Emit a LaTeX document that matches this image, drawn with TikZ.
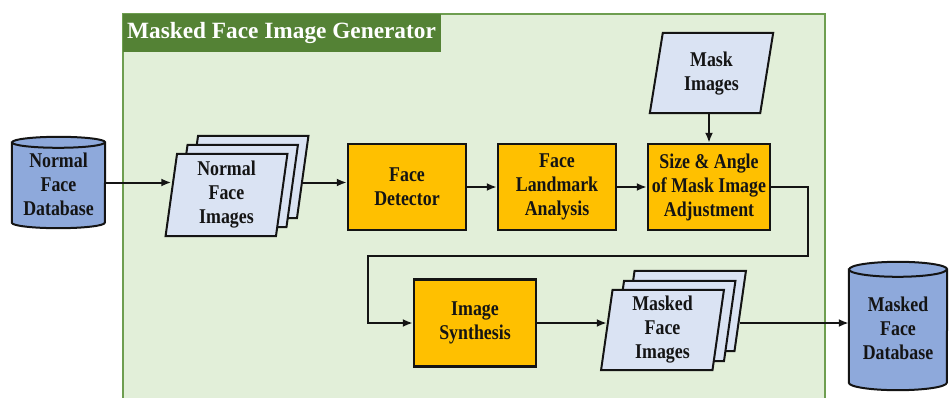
\documentclass[tikz,border=0pt]{standalone}
\usepackage{fontspec}
\setmainfont{Liberation Serif}
\newfontfamily\labelfont[FakeStretch=0.85]{Liberation Serif}
\usetikzlibrary{arrows.meta,calc}

\definecolor{genfill}{HTML}{E2EFD9}
\definecolor{genedge}{HTML}{6E9E50}
\definecolor{genhead}{HTML}{548235}
\definecolor{procfill}{HTML}{FFC000}
\definecolor{sheetfill}{HTML}{DAE3F3}
\definecolor{dbfill}{HTML}{8EA9DB}
\definecolor{ink}{HTML}{141414}

% parallelogram sheet around a rectangular node: #1 node, #2 half slant
\newcommand\drawsheet[2]{%
  \draw[sheet] ($(#1.south west)+(-#2,0)$) -- ($(#1.north west)+(#2,0)$)
    -- ($(#1.north east)+(#2,0)$) -- ($(#1.south east)+(-#2,0)$) -- cycle;}

% upright cylinder filling a rectangular node: #1 node, #2 half width, #3 cap radius
\newcommand\drawcyl[3]{%
  \draw[db] ($(#1.north west)+(0,#3)$) -- ($(#1.south west)+(0,-#3)$)
    arc[start angle=180,end angle=0,x radius=#2,y radius=#3]
    -- ($(#1.north east)+(0,#3)$)
    arc[start angle=0,end angle=-180,x radius=#2,y radius=#3] -- cycle;
  \draw[db,fill=none] ($(#1.north west)+(0,#3)$)
    arc[start angle=180,end angle=0,x radius=#2,y radius=#3];}

\begin{document}
\begin{tikzpicture}[x=1pt,y=-1pt,
  lbl/.style={font=\labelfont\bfseries\fontsize{21}{24}\selectfont,
    align=center, inner sep=0pt, text=ink},
  proc/.style={lbl, draw=ink, line width=2.4pt, fill=procfill},
  area/.style={inner sep=0pt, minimum width=110pt, minimum height=80pt},
  sheet/.style={draw=ink, line width=2pt, fill=sheetfill},
  db/.style={draw=ink, line width=2pt, fill=dbfill},
  arr/.style={draw=ink, line width=2pt, -{Latex[length=10pt,width=8pt]}}
]
\useasboundingbox (0,0) rectangle (949,398);
\clip (0,0) rectangle (949,398);

% generator frame and its title bar
\draw[genedge, line width=1.6pt, fill=genfill] (123,14) rectangle (825,420);
\fill[genhead] (123,14) rectangle (441,52);
\node[anchor=west, inner sep=0pt, text=white,
  font=\bfseries\fontsize{23.3}{26}\selectfont] (title) at (127,33)
  {Masked Face Image Generator};

% databases
\node[area, minimum width=93pt, minimum height=91pt] (ndb) at (58.5,182.5) {};
\drawcyl{ndb}{46.5}{5.5}
\node[lbl] (ndbtxt) at (58.5,184) {Normal\\Face\\Database};

\node[area, minimum width=98pt, minimum height=128pt] (mdb) at (898,326) {};
\drawcyl{mdb}{49}{7.5}
\node[lbl] (mdbtxt) at (898,328) {Masked\\Face\\Database};

% normal face image stack
\node[area, minimum height=82pt] (nfi3) at (247.5,177) {};
\node[area, minimum height=82pt] (nfi2) at (237,186) {};
\node[area, minimum height=82pt] (nfi) at (226.5,195) {};
\drawsheet{nfi3}{5.75}
\drawsheet{nfi2}{5.75}
\drawsheet{nfi}{5.75}
\node[lbl] (nfitxt) at (nfi) {Normal\\Face\\Images};

% mask images
\node[area] (mask) at (711.5,73) {};
\drawsheet{mask}{6.5}
\node[lbl] (masktxt) at (711.5,74) {Mask\\Images};

% masked face image stack
\node[area, minimum width=111pt] (mfi3) at (684.5,311) {};
\node[area, minimum width=111pt] (mfi2) at (674,321) {};
\node[area, minimum width=111pt] (mfi) at (662.5,330) {};
\drawsheet{mfi3}{5.75}
\drawsheet{mfi2}{5.75}
\drawsheet{mfi}{5.75}
\node[lbl] (mfitxt) at (mfi) {Masked\\Face\\Images};

% processing steps
\node[proc, minimum width=118pt, minimum height=86pt] (det) at (407,187) {Face\\Detector};
\node[proc, minimum width=118pt, minimum height=86pt] (flm) at (557,187) {Face\\Landmark\\Analysis};
\node[proc, minimum width=122pt, minimum height=86pt] (size) at (709,187) {Size \& Angle\\of Mask Image\\Adjustment};
\node[proc, minimum width=122pt, minimum height=87pt] (syn) at (475,323) {Image\\Synthesis};

% flow
\coordinate (bendR) at (808,256);
\coordinate (bendL) at (368,256);
\draw[arr] (ndb.east) -- (nfi.west |- ndb.east);
\draw[arr] (nfi3.east |- ndb.east) -- (det.west |- ndb.east);
\draw[arr] (det) -- (flm);
\draw[arr] (flm) -- (size);
\draw[arr] (mask.south -| size.north) -- (size.north);
\draw[arr] (size.east) -| (bendR) -- (bendL) |- (syn.west);
\draw[arr] (syn.east) -- (syn.east -| mfi.west);
\draw[arr] (mfi3.east |- syn.east) -- (mdb.west |- syn.east);
\end{tikzpicture}
\end{document}
